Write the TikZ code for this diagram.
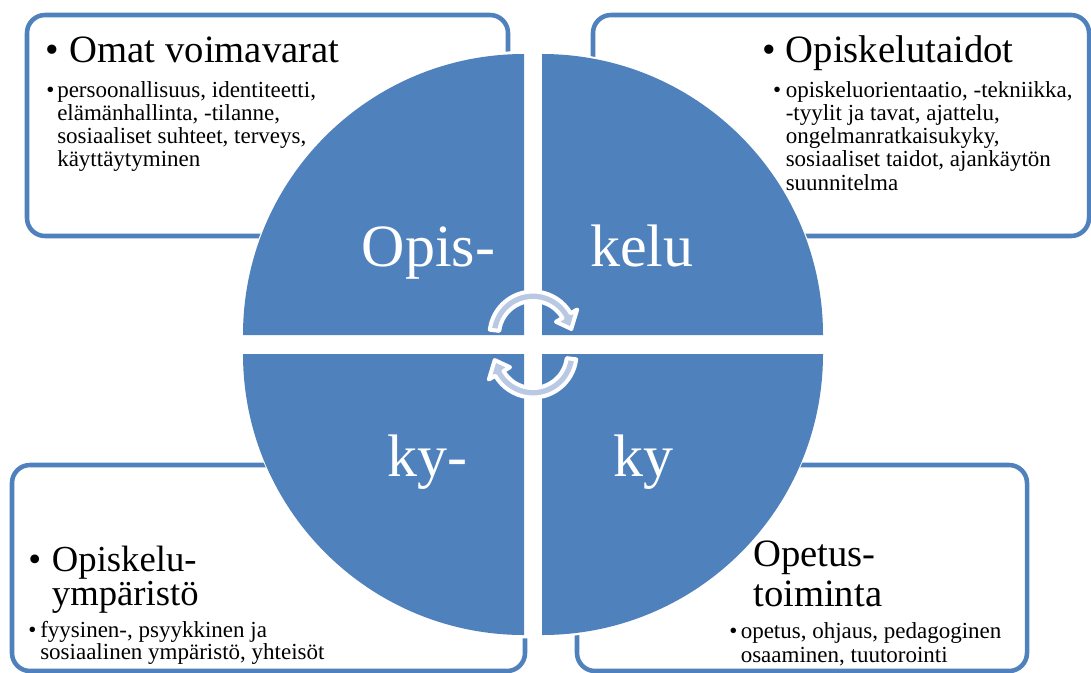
\documentclass[tikz,border=0pt]{standalone}
\usepackage{fontspec}
\setmainfont{Liberation Serif}
\usetikzlibrary{calc}

\definecolor{quadblue}{RGB}{79,129,189}
\definecolor{turnfill}{RGB}{185,201,227}

\begin{document}
\begin{tikzpicture}[x=0.75pt, y=0.75pt, yscale=-1,
  panel/.style={draw=quadblue, line width=3.4pt, rounded corners=13.5pt, fill=white},
  quarter/.style={fill=quadblue},
  head/.style={anchor=base west, inner sep=0pt, align=left, font=\fontsize{29}{30}\selectfont},
  body/.style={anchor=base west, inner sep=0pt, align=left, font=\fontsize{17.25}{17.4}\selectfont},
  word/.style={anchor=base west, inner sep=0pt, text=white, font=\fontsize{45}{45}\selectfont},
  turn/.style={fill=turnfill, draw=white, line width=3pt, line join=round}]
\useasboundingbox (0,0) rectangle (1091,672);

% boxes behind the circle
\draw [panel] (27,15) rectangle (508,236);
\draw [panel] (593,15) rectangle (1089,236);
\draw [panel] (12,465) rectangle (525,671);
\draw [panel] (577,465) rectangle (1027,671);

% top left (several lines: placed at the last baseline)
\node [head, anchor=base] (tldot) at (52,62.6) {\textbullet};
\node [head] (tlhead) at (69.5,62.6) {Omat voimavarat};
\node [body, anchor=base] (tlbul) at (50.4,97.3) {\textbullet};
\node [body] (tltext) at (57,166.9) {persoonallisuus, identiteetti,\\elämänhallinta, -tilanne,\\sosiaaliset suhteet, terveys,\\käyttäytyminen};

% top right
\node [head, anchor=base] (trdot) at (769.2,62.6) {\textbullet};
\node [head] (trhead) at (785.5,62.6) {Opiskelutaidot};
\node [body, anchor=base] (trbul) at (777.2,97.3) {\textbullet};
\node [body] (trtext) at (785.5,190.1) {opiskeluorientaatio, -tekniikka,\\-tyylit ja tavat, ajattelu,\\ongelmanratkaisukyky,\\sosiaaliset taidot, ajankäytön\\suunnitelma};

% bottom left
\node [head, anchor=base, font=\fontsize{27.5}{25.5}\selectfont] (bldot) at (34.7,571.7) {\textbullet};
\node [head, font=\fontsize{27.5}{25.5}\selectfont] (blhead) at (51.7,605.7) {Opiskelu-\\ympäristö};
\node [body, anchor=base] (blbul) at (32.3,637) {\textbullet};
\node [body, font=\fontsize{17.25}{16.5}\selectfont] (bltext) at (40,659) {fyysinen-, psyykkinen ja\\sosiaalinen ympäristö, yhteisöt};

% bottom right
\node [head, font=\fontsize{29}{30}\selectfont] (brhead) at (753,606) {Opetus-\\toiminta};
\node [body, anchor=base] (brbul) at (733.4,638) {\textbullet};
\node [body, font=\fontsize{17.25}{18}\selectfont] (brtext) at (740.5,662) {opetus, ohjaus, pedagoginen\\osaaminen, tuutorointi};

% the circle in four quarters
\fill [white] (533,344.5) circle [radius=294];
\fill [quarter] (524,335) -- (243,335) arc [start angle=180, end angle=270, radius=281] -- cycle;
\fill [quarter] (542,335) -- (542,54) arc [start angle=270, end angle=360, radius=281] -- cycle;
\fill [quarter] (542,354) -- (823,354) arc [start angle=0, end angle=90, radius=281] -- cycle;
\fill [quarter] (524,354) -- (524,635) arc [start angle=90, end angle=180, radius=281] -- cycle;

\node [word] (opis) at (361.5,266) {Opis-};
\node [word] (kelu) at (590,266) {kelu};
\node [word] (kyleft) at (387.5,476) {ky-};
\node [word] (kyright) at (613,476) {ky};

% turning arrows
\draw [turn, shift={(533,335)}] (187:43.5) arc [start angle=187, end angle=330, radius=43.5] -- (330:51) -- (351:38.75) -- (330:26.5) -- (330:34) arc [start angle=330, end angle=187, radius=34] -- cycle;
\draw [turn, shift={(533,354)}, rotate=180] (187:43.5) arc [start angle=187, end angle=330, radius=43.5] -- (330:51) -- (351:38.75) -- (330:26.5) -- (330:34) arc [start angle=330, end angle=187, radius=34] -- cycle;
\end{tikzpicture}
\end{document}
